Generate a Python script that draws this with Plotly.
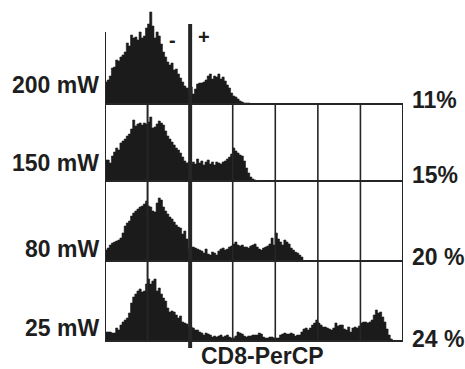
import numpy as np
import plotly.graph_objects as go

# channel bin width (one grid column = 1.0 decade unit, 7 columns)
bin_width = 0.05

power_labels = ["200 mW", "150 mW", "80 mW", "25 mW"]
percent_labels = ["11%", "15%", "20 %", "24 %"]
axis_title = "CD8-PerCP"
gate_labels = ["-", "+"]

counts_200mw = [22, 24, 28, 36, 37, 44, 43, 47, 49, 52, 61, 58, 69, 66, 67, 64, 72, 66, 68, 76,
                80, 92, 78, 66, 72, 68, 60, 52, 47, 42, 39, 41, 34, 35, 30, 26, 22, 18, 16, 15,
                17, 10, 15, 20, 21, 21, 22, 24, 28, 30, 25, 28, 27, 30, 25, 27, 23, 19, 16, 11,
                8, 7, 5, 3, 2, 1, 1, 1]

counts_150mw = [21, 21, 18, 25, 29, 33, 31, 38, 40, 42, 45, 47, 52, 61, 55, 57, 58, 56, 58, 57,
                59, 64, 53, 54, 57, 60, 58, 56, 50, 45, 42, 39, 36, 33, 31, 28, 24, 20, 18, 19,
                17, 19, 17, 22, 18, 20, 16, 19, 21, 17, 19, 16, 19, 18, 17, 19, 20, 22, 24, 27,
                33, 30, 28, 26, 25, 20, 13, 8, 4, 2, 1]

counts_80mw = [11, 13, 16, 18, 19, 20, 21, 23, 28, 35, 38, 40, 45, 48, 50, 52, 54, 55, 57, 60,
               55, 54, 50, 49, 58, 63, 61, 54, 50, 47, 44, 42, 39, 36, 34, 33, 27, 30, 22, 12,
               14, 14, 13, 12, 11, 10, 8, 12, 7, 6, 9, 8, 6, 10, 12, 13, 11, 12, 14, 15,
               17, 19, 16, 15, 16, 14, 14, 13, 15, 16, 17, 14, 12, 11, 13, 14, 15, 17, 23, 16,
               28, 22, 19, 16, 21, 19, 17, 13, 11, 9, 8, 6, 4]

counts_25mw = [9, 9, 9, 8, 8, 13, 11, 16, 19, 21, 23, 28, 38, 44, 47, 50, 52, 49, 50, 57,
               62, 57, 60, 62, 50, 53, 47, 43, 40, 33, 29, 30, 29, 26, 23, 25, 19, 18, 17, 14,
               14, 13, 11, 11, 9, 8, 6, 8, 7, 6, 4, 5, 4, 5, 6, 4, 5, 6, 4, 3,
               3, 5, 9, 8, 7, 5, 4, 5, 5, 6, 6, 6, 8, 7, 4, 3, 3, 4, 4, 3,
               3, 3, 6, 7, 8, 7, 7, 8, 7, 5, 6, 6, 9, 12, 13, 11, 13, 16, 18, 21,
               18, 16, 14, 14, 13, 12, 11, 13, 18, 15, 16, 16, 12, 11, 14, 9, 13, 14, 13, 15,
               18, 19, 19, 18, 19, 21, 26, 31, 28, 29, 24, 19, 12, 6, 2]

series = [counts_200mw, counts_150mw, counts_80mw, counts_25mw]
y_tops = [96, 77, 80, 80]
domains = [[0.7117, 1.0], [0.4805, 0.7117], [0.2402, 0.4805], [0.0, 0.2402]]

FILL = "#1b1b1b"
LINE = "#262626"
FONT = "Liberation Sans, Arial, Helvetica, sans-serif"

fig = go.Figure()
for k, counts in enumerate(series):
    edges = np.arange(len(counts) + 1) * bin_width
    ys = list(counts) + [0]
    fig.add_trace(go.Scatter(
        x=edges, y=ys, mode="lines", line=dict(shape="hv", width=0.6, color=FILL),
        fill="tozeroy", fillcolor=FILL, yaxis="y" if k == 0 else f"y{k+1}",
        xaxis="x", showlegend=False, hoverinfo="skip"))

layout = dict(
    width=465, height=369,
    margin=dict(l=105, r=62, t=8, b=28),
    paper_bgcolor="white", plot_bgcolor="white",
    xaxis=dict(range=[0, 7], visible=False, fixedrange=True),
    showlegend=False,
)
for k in range(4):
    name = "yaxis" if k == 0 else f"yaxis{k+1}"
    layout[name] = dict(range=[0, y_tops[k]], domain=domains[k], visible=False,
                        anchor="x", fixedrange=True)
fig.update_layout(**layout)

shapes = []
# horizontal baselines
for d in domains:
    shapes.append(dict(type="line", xref="x", yref="paper", x0=0, x1=7, y0=d[0], y1=d[0],
                       line=dict(color=LINE, width=2), layer="above"))
# left border (extends into top panel)
shapes.append(dict(type="line", xref="x", yref="paper", x0=0, x1=0, y0=0, y1=0.928,
                   line=dict(color=LINE, width=2), layer="above"))
# inner grid columns (lower three panels)
for gx in [1, 3, 4, 5, 6, 7]:
    shapes.append(dict(type="line", xref="x", yref="paper", x0=gx, x1=gx, y0=0, y1=0.7117,
                       line=dict(color=LINE, width=2 if gx in (1, 7) else 1.6), layer="above"))
# thick +/- gate divider
shapes.append(dict(type="line", xref="x", yref="paper", x0=2, x1=2, y0=-0.021, y1=0.952,
                   line=dict(color=LINE, width=4), layer="above"))
fig.update_layout(shapes=shapes)

left_y = [0.7700, 0.536, 0.2763, 0.0405]
right_y = [0.7237, 0.4985, 0.2508, 0.0075]
ann = []
for lab, yy in zip(power_labels, left_y):
    ann.append(dict(text=f"<b>{lab}</b>", xref="paper", yref="paper", x=0, y=yy,
                    xanchor="right", yanchor="middle", xshift=-4, showarrow=False,
                    font=dict(family=FONT, size=23, color="#1e1e1e")))
for lab, yy in zip(percent_labels, right_y):
    ann.append(dict(text=f"<b>{lab}</b>", xref="paper", yref="paper", x=1, y=yy,
                    xanchor="left", yanchor="middle", xshift=7, showarrow=False,
                    font=dict(family=FONT, size=23, color="#1e1e1e")))
ann.append(dict(text=f"<b>{gate_labels[0]}</b>", xref="x", yref="paper", x=1.597, y=0.905,
                xanchor="center", yanchor="middle",
                showarrow=False, font=dict(family=FONT, size=20, color="#1e1e1e")))
ann.append(dict(text=f"<b>{gate_labels[1]}</b>", xref="x", yref="paper", x=2.326, y=0.914,
                xanchor="center", yanchor="middle",
                showarrow=False, font=dict(family=FONT, size=20, color="#1e1e1e")))
ann.append(dict(text=f"<b>{axis_title}</b>", xref="x", yref="paper", x=3.71, y=-0.0465,
                xanchor="center", yanchor="middle", showarrow=False,
                font=dict(family=FONT, size=23, color="#1e1e1e")))
fig.update_layout(annotations=ann)

fig.write_html("out.html", config={"displayModeBar": False},
               post_script="document.body.style.margin='0';document.body.style.overflow='hidden';")
